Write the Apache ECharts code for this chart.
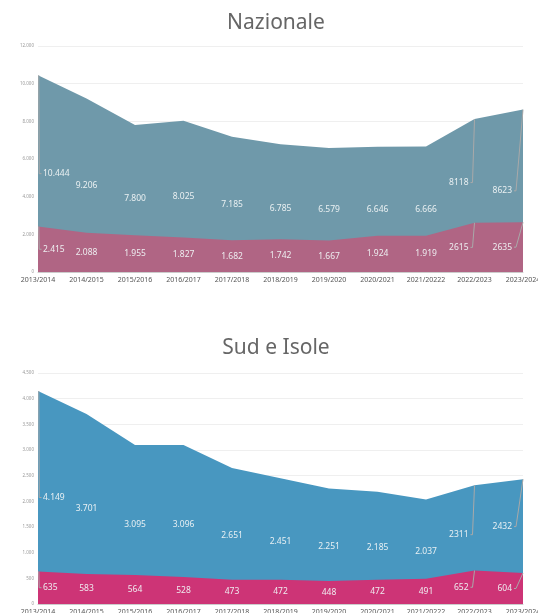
<!DOCTYPE html>
<html>
<head>
<meta charset="utf-8">
<script src="https://cdn.jsdelivr.net/npm/echarts@6/dist/echarts.min.js"></script>
<style>
html,body{margin:0;padding:0;background:#fff;}
#chart{width:538px;height:613px;}
</style>
</head>
<body>
<div id="chart"></div>
<script>
// ---------- DATA ----------
const categories = ['2013/2014','2014/2015','2015/2016','2016/2017','2017/2018','2018/2019','2019/2020','2020/2021','2021/20222','2022/2023','2023/2024'];

const nazTotal = [10444, 9206, 7800, 8025, 7185, 6785, 6579, 6646, 6666, 8118, 8623];
const nazPart  = [2415, 2088, 1955, 1827, 1682, 1742, 1667, 1924, 1919, 2615, 2635];
const nazTotalLabels = ['10.444','9.206','7.800','8.025','7.185','6.785','6.579','6.646','6.666','8118','8623'];
const nazPartLabels  = ['2.415','2.088','1.955','1.827','1.682','1.742','1.667','1.924','1.919','2615','2635'];

const sudTotal = [4149, 3701, 3095, 3096, 2651, 2451, 2251, 2185, 2037, 2311, 2432];
const sudPart  = [635, 583, 564, 528, 473, 472, 448, 472, 491, 652, 604];
const sudTotalLabels = ['4.149','3.701','3.095','3.096','2.651','2.451','2.251','2.185','2.037','2311','2432'];
const sudPartLabels  = ['635','583','564','528','473','472','448','472','491','652','604'];

const nazTicks = {min: 0, max: 12000, interval: 2000};
const sudTicks = {min: 0, max: 4500, interval: 500};

const titles = ['Nazionale', 'Sud e Isole'];

// ---------- LAYOUT / STYLE ----------
const colors = {
  nazTotal: '#6f99aa', nazPart: '#b06584',
  sudTotal: '#4897c0', sudPart: '#cd3476'
};
const labelShift = { nazTotal: {9: -13}, nazPart: {}, sudTotal: {9: -10, 10: -15}, sudPart: {} };
const FONT = '"Noto Sans", sans-serif';

function fmt(v){ return String(v).replace(/\B(?=(\d{3})+(?!\d))/g, '.'); }

function labelRenderer(texts, shifts){
  return function(params, api){
    const i = params.dataIndex;
    const n = texts.length;
    const v = api.value(1);
    const p = api.coord([api.value(0), v]);
    const z = api.coord([api.value(0), 0]);
    const ly = (p[1] + z[1]) / 2 + (shifts[i] || 0);
    const children = [];
    let tx, align;
    const lineStyle = {stroke: '#a9a9a9', lineWidth: 1, fill: null};
    if (i === 0) {
      children.push({type:'polyline', shape:{points:[[p[0]+0.8,p[1]],[p[0]+1.2,ly],[p[0]+3.5,ly]]}, style: lineStyle});
      tx = p[0] + 5; align = 'left';
    } else if (i >= n - 2) {
      const ex = (i === n - 1) ? p[0] - 7 : p[0] - 2;
      children.push({type:'polyline', shape:{points:[[p[0],p[1]],[ex,ly],[ex-2,ly]]}, style: lineStyle});
      tx = ex - 4; align = 'right';
    } else {
      tx = p[0]; align = 'center';
    }
    children.push({type:'text', style:{x: tx, y: ly, text: texts[i], align: align, verticalAlign: 'middle',
      fill: 'rgba(240,244,246,0.95)', fontSize: 8.5, fontFamily: FONT}});
    return {type:'group', children: children};
  };
}

function areaSeries(name, data, color, gi){
  return {
    name: name, type: 'line', xAxisIndex: gi, yAxisIndex: gi, data: data,
    symbol: 'none', smooth: false, silent: true,
    lineStyle: {width: 0, color: color},
    itemStyle: {color: color},
    areaStyle: {color: color, opacity: 1}
  };
}
function labelSeries(data, texts, shifts, gi){
  return {
    type: 'custom', xAxisIndex: gi, yAxisIndex: gi, silent: true, clip: false, z: 10,
    data: data.map((v, i) => [i, v]),
    renderItem: labelRenderer(texts, shifts)
  };
}

const grids = [
  {left: 38, right: 15, top: 46, height: 226, containLabel: false, outerBoundsMode: 'none'},
  {left: 38, right: 15, top: 373, height: 231, containLabel: false, outerBoundsMode: 'none'}
];

function xAxis(gi){
  return {
    type: 'category', gridIndex: gi, data: categories, boundaryGap: false,
    axisLine: {show: true, lineStyle: {color: '#cccccc', width: 1}},
    axisTick: {show: false},
    axisLabel: {interval: 0, hideOverlap: false, fontSize: 7, color: '#555', margin: 4, fontFamily: FONT}
  };
}
function yAxis(gi, t){
  return {
    type: 'value', gridIndex: gi, min: t.min, max: t.max, interval: t.interval,
    axisLine: {show: false}, axisTick: {show: false},
    splitLine: {lineStyle: {color: '#efefef', width: 1}},
    axisLabel: {fontSize: 4.5, color: '#999', margin: 4, fontFamily: FONT, formatter: fmt}
  };
}

const chart = echarts.init(document.getElementById('chart'), null, {renderer: 'canvas'});
chart.setOption({
  animation: false,
  backgroundColor: '#ffffff',
  graphic: [
    {type: 'text', x: 276, y: 23, style: {text: titles[0], align: 'center', verticalAlign: 'middle', fontSize: 21, fill: '#666', fontFamily: FONT}},
    {type: 'text', x: 276, y: 348, style: {text: titles[1], align: 'center', verticalAlign: 'middle', fontSize: 21, fill: '#666', fontFamily: FONT}}
  ],
  grid: grids,
  xAxis: [xAxis(0), xAxis(1)],
  yAxis: [yAxis(0, nazTicks), yAxis(1, sudTicks)],
  series: [
    areaSeries('Nazionale totale', nazTotal, colors.nazTotal, 0),
    areaSeries('Nazionale parte', nazPart, colors.nazPart, 0),
    areaSeries('Sud totale', sudTotal, colors.sudTotal, 1),
    areaSeries('Sud parte', sudPart, colors.sudPart, 1),
    labelSeries(nazTotal, nazTotalLabels, labelShift.nazTotal, 0),
    labelSeries(nazPart, nazPartLabels, labelShift.nazPart, 0),
    labelSeries(sudTotal, sudTotalLabels, labelShift.sudTotal, 1),
    labelSeries(sudPart, sudPartLabels, labelShift.sudPart, 1)
  ]
});
</script>
</body>
</html>
